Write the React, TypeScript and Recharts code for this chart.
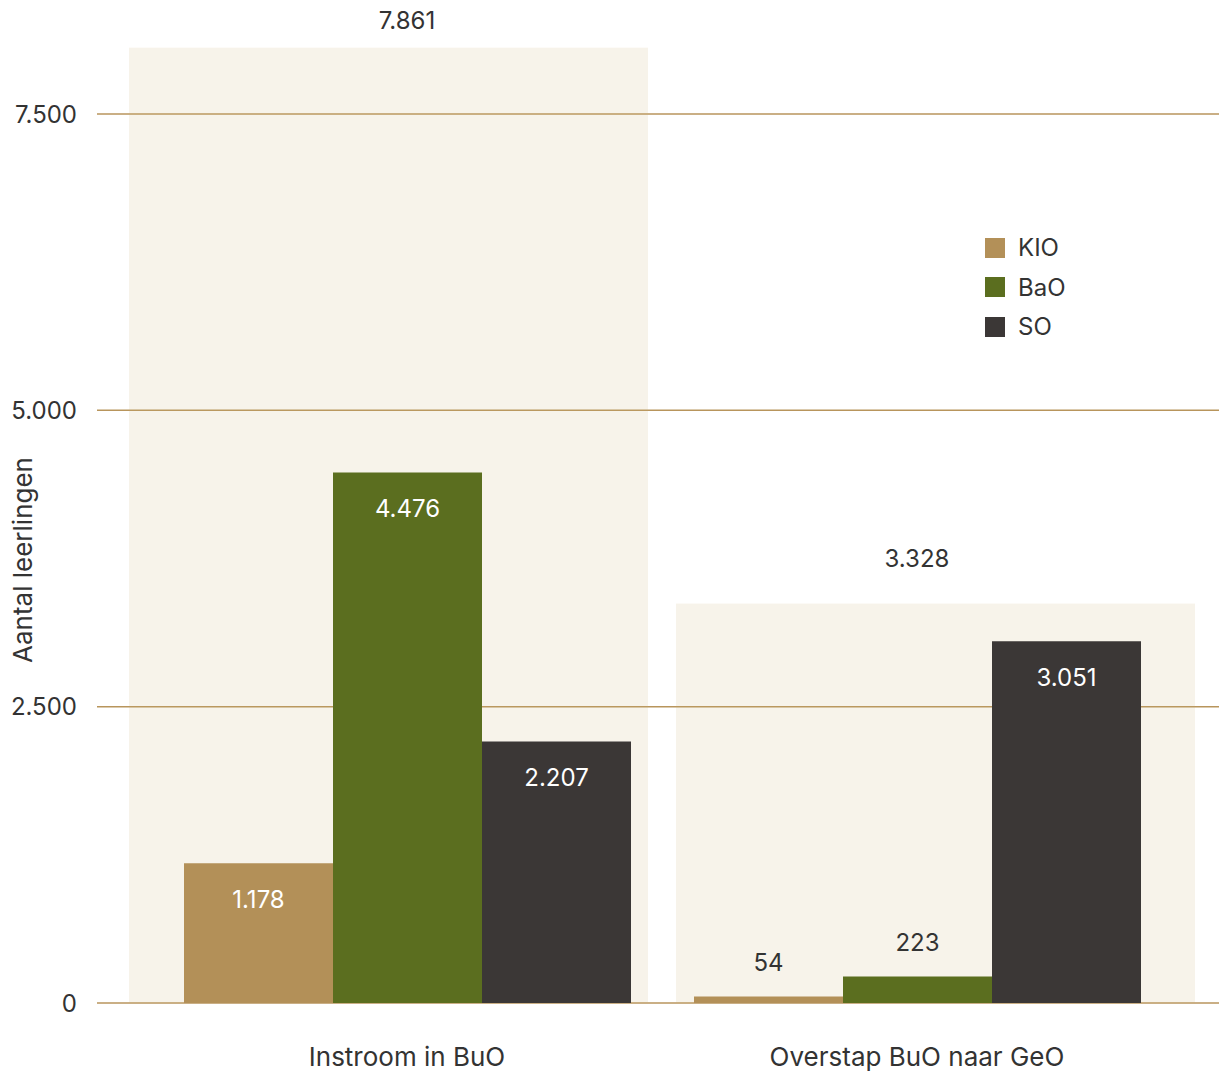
import { ComposedChart, Bar, Line, XAxis, YAxis, CartesianGrid, Legend, LabelList } from "recharts";

const categories = ["Instroom in BuO", "Overstap BuO naar GeO"];
const kio = [1178, 54];
const bao = [4476, 223];
const so = [2207, 3051];
const totals = [7861, 3328];
// height of the pale panel behind each group
const panelTop = [8060, 3370];
const yTicks = [0, 2500, 5000, 7500];

const series = [
  { key: "KIO", color: "#b39058" },
  { key: "BaO", color: "#5b6e1f" },
  { key: "SO", color: "#3b3736" },
];

const data = categories.map((name, i) => ({
  name,
  KIO: kio[i],
  BaO: bao[i],
  SO: so[i],
  total: totals[i],
  panel: panelTop[i],
}));

const FONT = "Inter, 'Noto Sans', sans-serif";
const TEXT = "#333";

const fmt = (v: number) => String(v).replace(/\B(?=(\d{3})+(?!\d))/g, ".");

// panels are a bit wider than the bars and lean away from the middle
function Panel(props: any) {
  const { x, y, width, height, index } = props;
  const cx = x + width / 2 + (index === 0 ? -18.5 : 18.5);
  return <rect x={cx - 259.5} y={y} width={519} height={height} fill="rgba(202,175,115,0.15)" />;
}

function BarValue(props: any) {
  const { x, y, width, height, value } = props;
  const inside = height > 60;
  return (
    <text
      x={x + width / 2}
      y={inside ? y + 36 : y - 34}
      textAnchor="middle"
      dominantBaseline="central"
      fill={inside ? "#fff" : TEXT}
      fontSize={24}
      fontFamily={FONT}
    >
      {fmt(value)}
    </text>
  );
}

function YLabel(props: any) {
  const vb = props.viewBox;
  const cx = vb.x + 22;
  const cy = vb.y + vb.height / 2 + 56;
  return (
    <text
      x={cx}
      y={cy}
      transform={`rotate(-90 ${cx} ${cy})`}
      textAnchor="middle"
      dominantBaseline="central"
      fill={TEXT}
      fontSize={26}
      fontFamily={FONT}
    >
      Aantal leerlingen
    </text>
  );
}

function LegendBox() {
  return (
    <div style={{ fontFamily: FONT, fontSize: 24, color: TEXT }}>
      {series.map((s) => (
        <div key={s.key} style={{ display: "flex", alignItems: "center", height: 39.5 }}>
          <span style={{ width: 20, height: 20, background: s.color, marginRight: 13, display: "inline-block" }} />
          <span>{s.key}</span>
        </div>
      ))}
    </div>
  );
}

export default function App() {
  return (
    <div style={{ position: "absolute", left: 0, top: 0, background: "#fff" }}>
      <ComposedChart
        width={1219}
        height={1073}
        data={data}
        margin={{ top: 5, right: 0, left: 0, bottom: 0 }}
        barCategoryGap={32}
        barGap={0}
      >
        <CartesianGrid vertical={false} horizontalValues={yTicks} stroke="#b8955c" strokeWidth={1.5} />
        <XAxis
          dataKey="name"
          height={70}
          padding={{ left: 55, right: 47 }}
          axisLine={false}
          tickLine={false}
          tickMargin={39}
          tick={{ fontSize: 26, fill: TEXT, fontFamily: FONT }}
        />
        <XAxis xAxisId="bg" dataKey="name" hide padding={{ left: 55, right: 47 }} />
        <YAxis
          width={97}
          domain={[0, 8420]}
          ticks={yTicks}
          allowDataOverflow
          axisLine={false}
          tickLine={false}
          tickMargin={14}
          tickFormatter={fmt}
          tick={{ fontSize: 24, fill: TEXT, fontFamily: FONT }}
          label={YLabel}
        />
        <Legend
          layout="vertical"
          align="center"
          verticalAlign="middle"
          content={LegendBox}
          wrapperStyle={{ left: 985, top: 228, width: "auto" }}
        />
        <Bar xAxisId="bg" dataKey="panel" shape={Panel} legendType="none" isAnimationActive={false} />
        {series.map((s) => (
          <Bar key={s.key} dataKey={s.key} fill={s.color} isAnimationActive={false}>
            <LabelList dataKey={s.key} content={BarValue} />
          </Bar>
        ))}
        <Line
          dataKey="total"
          stroke="none"
          dot={false}
          activeDot={false}
          legendType="none"
          isAnimationActive={false}
        >
          <LabelList dataKey="total" position="top" offset={42} formatter={fmt} fill={TEXT} fontSize={24} fontFamily={FONT} />
        </Line>
      </ComposedChart>
    </div>
  );
}
